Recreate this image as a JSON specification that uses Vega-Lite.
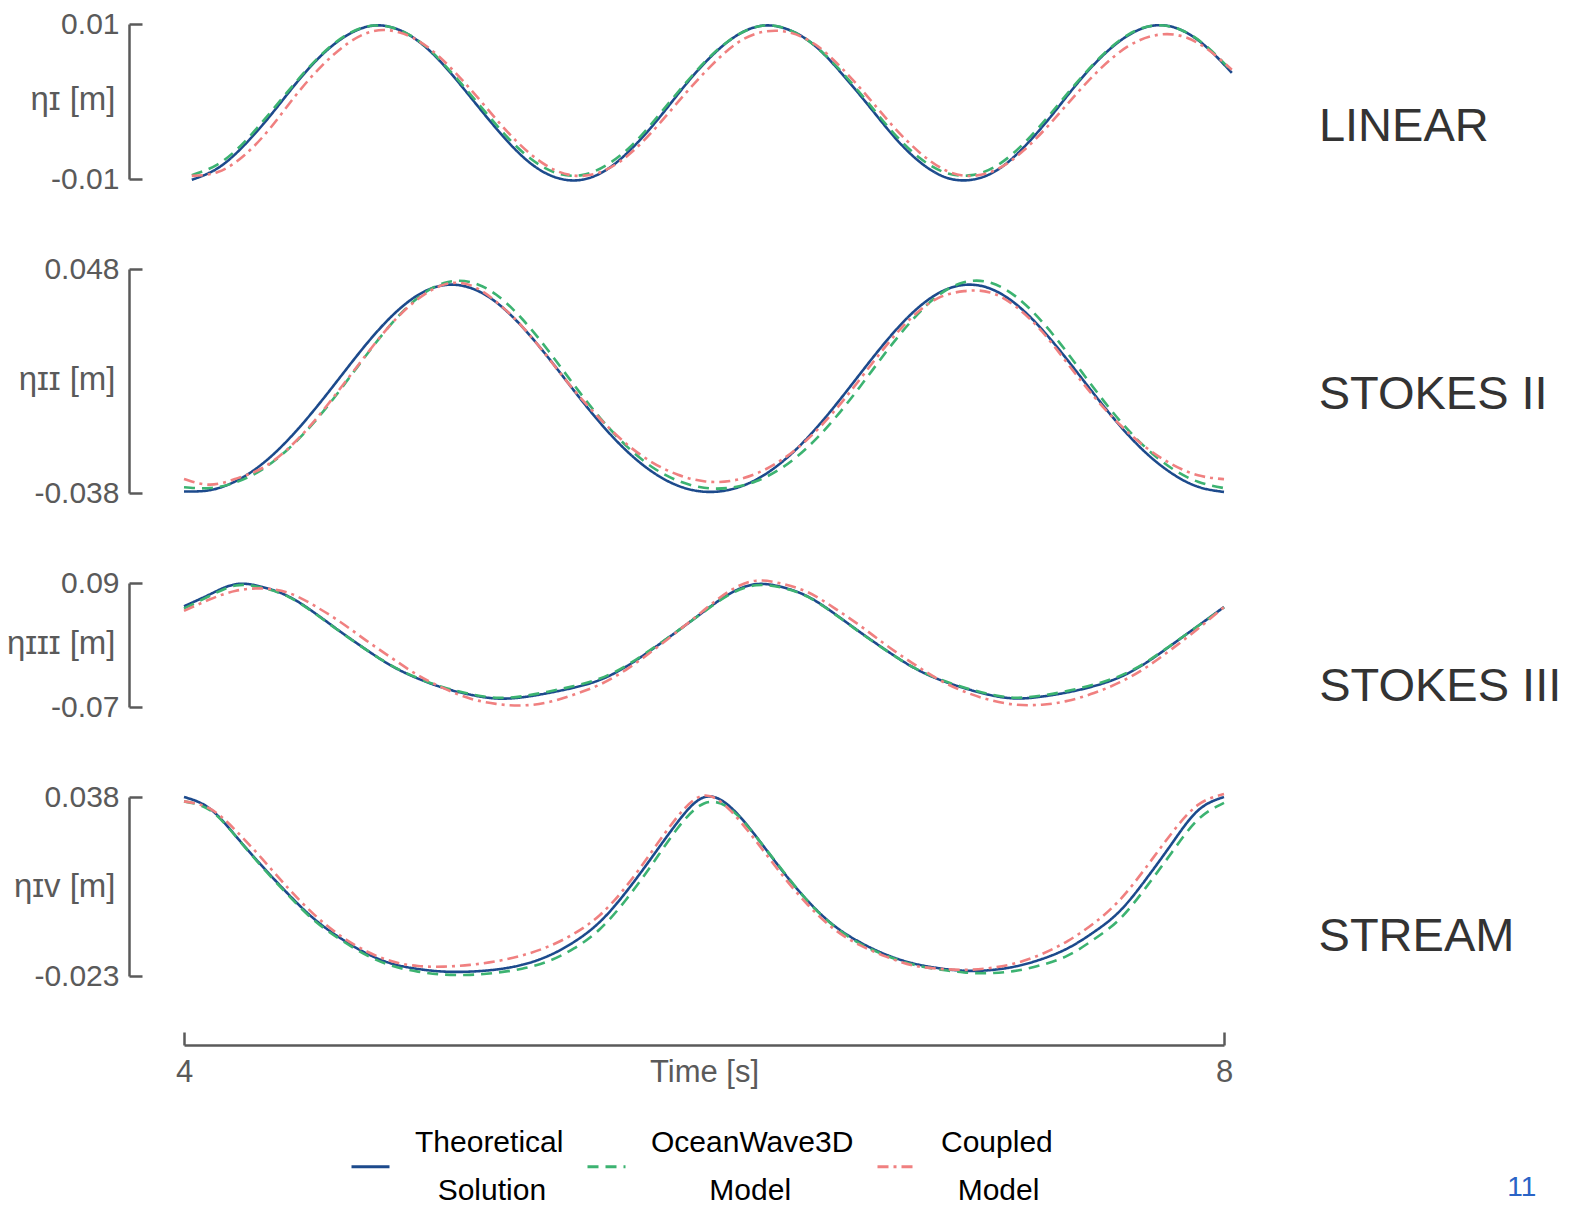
{
"$schema": "https://vega.github.io/schema/vega-lite/v6.json",
"background": "white",
"padding": {"left": 6, "top": 9, "right": 5, "bottom": 5},
"data": {"values": [
{"p":1,"t":4.03,"a":-0.0101,"b":-0.0095,"c":-0.0096},
{"p":1,"t":4.13,"a":-0.0086,"b":-0.0081,"c":-0.0091},
{"p":1,"t":4.23,"a":-0.0057,"b":-0.0053,"c":-0.0070},
{"p":1,"t":4.33,"a":-0.0019,"b":-0.0015,"c":-0.0035},
{"p":1,"t":4.43,"a":0.0023,"b":0.0025,"c":0.0008},
{"p":1,"t":4.53,"a":0.0060,"b":0.0061,"c":0.0046},
{"p":1,"t":4.63,"a":0.0086,"b":0.0087,"c":0.0075},
{"p":1,"t":4.73,"a":0.0098,"b":0.0098,"c":0.0091},
{"p":1,"t":4.83,"a":0.0092,"b":0.0092,"c":0.0089},
{"p":1,"t":4.93,"a":0.0070,"b":0.0071,"c":0.0072},
{"p":1,"t":5.03,"a":0.0035,"b":0.0037,"c":0.0042},
{"p":1,"t":5.13,"a":-0.0006,"b":-0.0002,"c":0.0005},
{"p":1,"t":5.23,"a":-0.0046,"b":-0.0041,"c":-0.0034},
{"p":1,"t":5.33,"a":-0.0079,"b":-0.0073,"c":-0.0067},
{"p":1,"t":5.43,"a":-0.0098,"b":-0.0092,"c":-0.0089},
{"p":1,"t":5.53,"a":-0.0101,"b":-0.0095,"c":-0.0096},
{"p":1,"t":5.63,"a":-0.0087,"b":-0.0081,"c":-0.0087},
{"p":1,"t":5.73,"a":-0.0058,"b":-0.0054,"c":-0.0063},
{"p":1,"t":5.83,"a":-0.0020,"b":-0.0016,"c":-0.0028},
{"p":1,"t":5.93,"a":0.0022,"b":0.0024,"c":0.0011},
{"p":1,"t":6.03,"a":0.0059,"b":0.0060,"c":0.0047},
{"p":1,"t":6.13,"a":0.0086,"b":0.0086,"c":0.0076},
{"p":1,"t":6.23,"a":0.0098,"b":0.0098,"c":0.0090},
{"p":1,"t":6.33,"a":0.0092,"b":0.0092,"c":0.0089},
{"p":1,"t":6.43,"a":0.0071,"b":0.0071,"c":0.0073},
{"p":1,"t":6.53,"a":0.0036,"b":0.0038,"c":0.0043},
{"p":1,"t":6.63,"a":-0.0004,"b":-0.0001,"c":0.0006},
{"p":1,"t":6.73,"a":-0.0045,"b":-0.0041,"c":-0.0033},
{"p":1,"t":6.83,"a":-0.0078,"b":-0.0073,"c":-0.0066},
{"p":1,"t":6.93,"a":-0.0098,"b":-0.0092,"c":-0.0089},
{"p":1,"t":7.03,"a":-0.0101,"b":-0.0095,"c":-0.0096},
{"p":1,"t":7.13,"a":-0.0088,"b":-0.0082,"c":-0.0087},
{"p":1,"t":7.23,"a":-0.0059,"b":-0.0054,"c":-0.0063},
{"p":1,"t":7.33,"a":-0.0021,"b":-0.0017,"c":-0.0029},
{"p":1,"t":7.43,"a":0.0021,"b":0.0023,"c":0.0009},
{"p":1,"t":7.53,"a":0.0058,"b":0.0059,"c":0.0044},
{"p":1,"t":7.63,"a":0.0085,"b":0.0086,"c":0.0071},
{"p":1,"t":7.73,"a":0.0098,"b":0.0098,"c":0.0085},
{"p":1,"t":7.83,"a":0.0093,"b":0.0093,"c":0.0085},
{"p":1,"t":7.93,"a":0.0071,"b":0.0072,"c":0.0069},
{"p":1,"t":8.03,"a":0.0037,"b":0.0039,"c":0.0041},
{"p":2,"t":4.0,"a":-0.0374,"b":-0.0358,"c":-0.0326},
{"p":2,"t":4.1,"a":-0.0369,"b":-0.0361,"c":-0.0348},
{"p":2,"t":4.2,"a":-0.0334,"b":-0.0339,"c":-0.0325},
{"p":2,"t":4.3,"a":-0.0269,"b":-0.0290,"c":-0.0285},
{"p":2,"t":4.4,"a":-0.0176,"b":-0.0212,"c":-0.0210},
{"p":2,"t":4.5,"a":-0.0062,"b":-0.0109,"c":-0.0105},
{"p":2,"t":4.6,"a":0.0064,"b":0.0015,"c":0.0020},
{"p":2,"t":4.7,"a":0.0190,"b":0.0148,"c":0.0150},
{"p":2,"t":4.8,"a":0.0300,"b":0.0272,"c":0.0272},
{"p":2,"t":4.9,"a":0.0380,"b":0.0370,"c":0.0365},
{"p":2,"t":5.0,"a":0.0418,"b":0.0426,"c":0.0420},
{"p":2,"t":5.1,"a":0.0408,"b":0.0430,"c":0.0418},
{"p":2,"t":5.2,"a":0.0353,"b":0.0382,"c":0.0355},
{"p":2,"t":5.3,"a":0.0259,"b":0.0289,"c":0.0260},
{"p":2,"t":5.4,"a":0.0141,"b":0.0168,"c":0.0140},
{"p":2,"t":5.5,"a":0.0013,"b":0.0035,"c":0.0015},
{"p":2,"t":5.6,"a":-0.0110,"b":-0.0091,"c":-0.0095},
{"p":2,"t":5.7,"a":-0.0216,"b":-0.0198,"c":-0.0190},
{"p":2,"t":5.8,"a":-0.0298,"b":-0.0280,"c":-0.0262},
{"p":2,"t":5.9,"a":-0.0352,"b":-0.0333,"c":-0.0310},
{"p":2,"t":6.0,"a":-0.0375,"b":-0.0360,"c":-0.0335},
{"p":2,"t":6.1,"a":-0.0367,"b":-0.0360,"c":-0.0334},
{"p":2,"t":6.2,"a":-0.0329,"b":-0.0335,"c":-0.0306},
{"p":2,"t":6.3,"a":-0.0261,"b":-0.0283,"c":-0.0252},
{"p":2,"t":6.4,"a":-0.0166,"b":-0.0203,"c":-0.0172},
{"p":2,"t":6.5,"a":-0.0050,"b":-0.0097,"c":-0.0067},
{"p":2,"t":6.6,"a":0.0077,"b":0.0028,"c":0.0057},
{"p":2,"t":6.7,"a":0.0202,"b":0.0161,"c":0.0185},
{"p":2,"t":6.8,"a":0.0310,"b":0.0283,"c":0.0295},
{"p":2,"t":6.9,"a":0.0386,"b":0.0378,"c":0.0368},
{"p":2,"t":7.0,"a":0.0419,"b":0.0429,"c":0.0395},
{"p":2,"t":7.1,"a":0.0405,"b":0.0428,"c":0.0390},
{"p":2,"t":7.2,"a":0.0345,"b":0.0374,"c":0.0335},
{"p":2,"t":7.3,"a":0.0248,"b":0.0278,"c":0.0240},
{"p":2,"t":7.4,"a":0.0128,"b":0.0155,"c":0.0115},
{"p":2,"t":7.5,"a":0.0000,"b":0.0022,"c":-0.0010},
{"p":2,"t":7.6,"a":-0.0122,"b":-0.0103,"c":-0.0118},
{"p":2,"t":7.7,"a":-0.0226,"b":-0.0207,"c":-0.0205},
{"p":2,"t":7.8,"a":-0.0305,"b":-0.0286,"c":-0.0270},
{"p":2,"t":7.9,"a":-0.0356,"b":-0.0337,"c":-0.0312},
{"p":2,"t":8.0,"a":-0.0376,"b":-0.0361,"c":-0.0327},
{"p":3,"t":4.0,"a":0.0600,"b":0.0570,"c":0.0540},
{"p":3,"t":4.1,"a":0.0754,"b":0.0735,"c":0.0690},
{"p":3,"t":4.2,"a":0.0885,"b":0.0868,"c":0.0800},
{"p":3,"t":4.3,"a":0.0850,"b":0.0840,"c":0.0830},
{"p":3,"t":4.4,"a":0.0730,"b":0.0725,"c":0.0775},
{"p":3,"t":4.5,"a":0.0520,"b":0.0515,"c":0.0610},
{"p":3,"t":4.6,"a":0.0276,"b":0.0272,"c":0.0400},
{"p":3,"t":4.7,"a":0.0042,"b":0.0040,"c":0.0160},
{"p":3,"t":4.8,"a":-0.0172,"b":-0.0170,"c":-0.0070},
{"p":3,"t":4.9,"a":-0.0333,"b":-0.0328,"c":-0.0290},
{"p":3,"t":5.0,"a":-0.0455,"b":-0.0448,"c":-0.0460},
{"p":3,"t":5.1,"a":-0.0540,"b":-0.0532,"c":-0.0590},
{"p":3,"t":5.2,"a":-0.0590,"b":-0.0580,"c":-0.0660},
{"p":3,"t":5.3,"a":-0.0575,"b":-0.0562,"c":-0.0680},
{"p":3,"t":5.4,"a":-0.0520,"b":-0.0502,"c":-0.0640},
{"p":3,"t":5.5,"a":-0.0450,"b":-0.0430,"c":-0.0540},
{"p":3,"t":5.6,"a":-0.0350,"b":-0.0332,"c":-0.0410},
{"p":3,"t":5.7,"a":-0.0180,"b":-0.0168,"c":-0.0220},
{"p":3,"t":5.8,"a":0.0043,"b":0.0050,"c":0.0020},
{"p":3,"t":5.9,"a":0.0284,"b":0.0285,"c":0.0280},
{"p":3,"t":6.0,"a":0.0534,"b":0.0530,"c":0.0550},
{"p":3,"t":6.1,"a":0.0764,"b":0.0755,"c":0.0800},
{"p":3,"t":6.2,"a":0.0885,"b":0.0870,"c":0.0930},
{"p":3,"t":6.3,"a":0.0847,"b":0.0840,"c":0.0890},
{"p":3,"t":6.4,"a":0.0724,"b":0.0720,"c":0.0780},
{"p":3,"t":6.5,"a":0.0509,"b":0.0505,"c":0.0580},
{"p":3,"t":6.6,"a":0.0266,"b":0.0262,"c":0.0350},
{"p":3,"t":6.7,"a":0.0033,"b":0.0030,"c":0.0100},
{"p":3,"t":6.8,"a":-0.0180,"b":-0.0178,"c":-0.0130},
{"p":3,"t":6.9,"a":-0.0340,"b":-0.0335,"c":-0.0340},
{"p":3,"t":7.0,"a":-0.0455,"b":-0.0448,"c":-0.0500},
{"p":3,"t":7.1,"a":-0.0545,"b":-0.0535,"c":-0.0610},
{"p":3,"t":7.2,"a":-0.0590,"b":-0.0580,"c":-0.0670},
{"p":3,"t":7.3,"a":-0.0565,"b":-0.0552,"c":-0.0670},
{"p":3,"t":7.4,"a":-0.0510,"b":-0.0492,"c":-0.0620},
{"p":3,"t":7.5,"a":-0.0430,"b":-0.0410,"c":-0.0520},
{"p":3,"t":7.6,"a":-0.0314,"b":-0.0298,"c":-0.0380},
{"p":3,"t":7.7,"a":-0.0130,"b":-0.0122,"c":-0.0190},
{"p":3,"t":7.8,"a":0.0104,"b":0.0108,"c":0.0050},
{"p":3,"t":7.9,"a":0.0346,"b":0.0345,"c":0.0310},
{"p":3,"t":8.0,"a":0.0590,"b":0.0585,"c":0.0590},
{"p":4,"t":4.0,"a":0.0380,"b":0.0365,"c":0.0365},
{"p":4,"t":4.1,"a":0.0340,"b":0.0335,"c":0.0340},
{"p":4,"t":4.2,"a":0.0246,"b":0.0245,"c":0.0265},
{"p":4,"t":4.3,"a":0.0145,"b":0.0142,"c":0.0170},
{"p":4,"t":4.4,"a":0.0050,"b":0.0046,"c":0.0070},
{"p":4,"t":4.5,"a":-0.0035,"b":-0.0040,"c":-0.0020},
{"p":4,"t":4.6,"a":-0.0100,"b":-0.0105,"c":-0.0092},
{"p":4,"t":4.7,"a":-0.0152,"b":-0.0158,"c":-0.0145},
{"p":4,"t":4.8,"a":-0.0188,"b":-0.0195,"c":-0.0180},
{"p":4,"t":4.9,"a":-0.0206,"b":-0.0215,"c":-0.0196},
{"p":4,"t":5.0,"a":-0.0215,"b":-0.0225,"c":-0.0198},
{"p":4,"t":5.1,"a":-0.0215,"b":-0.0226,"c":-0.0192},
{"p":4,"t":5.2,"a":-0.0208,"b":-0.0219,"c":-0.0180},
{"p":4,"t":5.3,"a":-0.0192,"b":-0.0205,"c":-0.0160},
{"p":4,"t":5.4,"a":-0.0162,"b":-0.0180,"c":-0.0130},
{"p":4,"t":5.5,"a":-0.0114,"b":-0.0136,"c":-0.0086},
{"p":4,"t":5.6,"a":-0.0045,"b":-0.0070,"c":-0.0022},
{"p":4,"t":5.7,"a":0.0056,"b":0.0030,"c":0.0075},
{"p":4,"t":5.8,"a":0.0175,"b":0.0150,"c":0.0195},
{"p":4,"t":5.9,"a":0.0296,"b":0.0275,"c":0.0315},
{"p":4,"t":6.0,"a":0.0379,"b":0.0358,"c":0.0385},
{"p":4,"t":6.1,"a":0.0347,"b":0.0340,"c":0.0335},
{"p":4,"t":6.2,"a":0.0246,"b":0.0245,"c":0.0230},
{"p":4,"t":6.3,"a":0.0130,"b":0.0132,"c":0.0115},
{"p":4,"t":6.4,"a":0.0025,"b":0.0024,"c":0.0012},
{"p":4,"t":6.5,"a":-0.0058,"b":-0.0060,"c":-0.0070},
{"p":4,"t":6.6,"a":-0.0115,"b":-0.0120,"c":-0.0125},
{"p":4,"t":6.7,"a":-0.0157,"b":-0.0160,"c":-0.0164},
{"p":4,"t":6.8,"a":-0.0186,"b":-0.0190,"c":-0.0193},
{"p":4,"t":6.9,"a":-0.0203,"b":-0.0207,"c":-0.0205},
{"p":4,"t":7.0,"a":-0.0212,"b":-0.0218,"c":-0.0209},
{"p":4,"t":7.1,"a":-0.0210,"b":-0.0220,"c":-0.0203},
{"p":4,"t":7.2,"a":-0.0197,"b":-0.0212,"c":-0.0186},
{"p":4,"t":7.3,"a":-0.0172,"b":-0.0192,"c":-0.0155},
{"p":4,"t":7.4,"a":-0.0135,"b":-0.0160,"c":-0.0110},
{"p":4,"t":7.5,"a":-0.0080,"b":-0.0105,"c":-0.0050},
{"p":4,"t":7.6,"a":-0.0008,"b":-0.0035,"c":0.0030},
{"p":4,"t":7.7,"a":0.0100,"b":0.0072,"c":0.0140},
{"p":4,"t":7.8,"a":0.0222,"b":0.0192,"c":0.0258},
{"p":4,"t":7.9,"a":0.0334,"b":0.0303,"c":0.0353},
{"p":4,"t":8.0,"a":0.0380,"b":0.0360,"c":0.0390}
]},
"title": {"text": "11", "orient": "bottom", "anchor": "end", "frame": "bounds", "angle": 0, "align": "right", "baseline": "middle", "offset": 0, "dx": -25, "dy": -18, "fontSize": 28, "font": "Liberation Sans, sans-serif", "color": "#2a63c6", "fontWeight": "normal"},
"spacing": 60,
"vconcat": [
{
 "width": 1040, "height": 155,
 "title": {"text": "LINEAR", "dy": 2.3, "offset": -3},
 "transform": [{"filter": "datum.p == 1"}, {"fold": ["a", "b", "c"], "as": ["s", "v"]}],
 "mark": {"type": "line", "interpolate": "natural", "strokeWidth": 2.6},
 "encoding": {
  "x": {"field": "t", "type": "quantitative", "scale": {"domain": [4, 8]}, "axis": null},
  "y": {"field": "v", "type": "quantitative", "scale": {"domain": [-0.01, 0.01], "zero": false, "nice": false}, "axis": {"values": [-0.01, 0.01], "title": "ηɪ [m]", "titleY": 75}},
  "color": {"field": "s", "type": "nominal", "scale": {"domain": ["a", "b", "c"], "range": ["#1c4a8c", "#3cb371", "#f08080"]}, "legend": {"title": null, "labelExpr": "datum.label == 'a' ? ['Theoretical', '\u200b\u00a0\u00a0\u2009Solution'] : datum.label == 'b' ? ['OceanWave3D', '\u200b\u00a0\u00a0\u00a0\u00a0\u00a0\u00a0\u00a0Model'] : ['Coupled', '\u200b\u00a0\u00a0Model']", "encode": {"labels": {"update": {"lineHeight": {"value": 48}, "dy": {"value": -24}}}}}},
  "strokeDash": {"field": "s", "type": "nominal", "scale": {"domain": ["a", "b", "c"], "range": [[1, 0], [11, 7], [11, 5, 3, 5]]}, "legend": {"title": null, "labelExpr": "datum.label == 'a' ? ['Theoretical', '\u200b\u00a0\u00a0\u2009Solution'] : datum.label == 'b' ? ['OceanWave3D', '\u200b\u00a0\u00a0\u00a0\u00a0\u00a0\u00a0\u00a0Model'] : ['Coupled', '\u200b\u00a0\u00a0Model']", "encode": {"labels": {"update": {"lineHeight": {"value": 48}, "dy": {"value": -24}}}}}}
 }
},
{
 "width": 1040, "height": 224,
 "title": {"text": "STOKES II", "dy": -9.5, "offset": -25},
 "transform": [{"filter": "datum.p == 2"}, {"fold": ["a", "b", "c"], "as": ["s", "v"]}],
 "mark": {"type": "line", "interpolate": "natural", "strokeWidth": 2.6},
 "encoding": {
  "x": {"field": "t", "type": "quantitative", "scale": {"domain": [4, 8]}, "axis": null},
  "y": {"field": "v", "type": "quantitative", "scale": {"domain": [-0.038, 0.048], "zero": false, "nice": false}, "axis": {"values": [-0.038, 0.048], "title": "ηɪɪ [m]", "titleY": 110}},
  "color": {"field": "s", "type": "nominal", "scale": {"domain": ["a", "b", "c"], "range": ["#1c4a8c", "#3cb371", "#f08080"]}, "legend": {"title": null, "labelExpr": "datum.label == 'a' ? ['Theoretical', '\u200b\u00a0\u00a0\u2009Solution'] : datum.label == 'b' ? ['OceanWave3D', '\u200b\u00a0\u00a0\u00a0\u00a0\u00a0\u00a0\u00a0Model'] : ['Coupled', '\u200b\u00a0\u00a0Model']", "encode": {"labels": {"update": {"lineHeight": {"value": 48}, "dy": {"value": -24}}}}}},
  "strokeDash": {"field": "s", "type": "nominal", "scale": {"domain": ["a", "b", "c"], "range": [[1, 0], [11, 7], [11, 5, 3, 5]]}, "legend": {"title": null, "labelExpr": "datum.label == 'a' ? ['Theoretical', '\u200b\u00a0\u00a0\u2009Solution'] : datum.label == 'b' ? ['OceanWave3D', '\u200b\u00a0\u00a0\u00a0\u00a0\u00a0\u00a0\u00a0Model'] : ['Coupled', '\u200b\u00a0\u00a0Model']", "encode": {"labels": {"update": {"lineHeight": {"value": 48}, "dy": {"value": -24}}}}}}
 }
},
{
 "width": 1040, "height": 124,
 "title": {"text": "STOKES III", "dy": 19, "offset": -31},
 "transform": [{"filter": "datum.p == 3"}, {"fold": ["a", "b", "c"], "as": ["s", "v"]}],
 "mark": {"type": "line", "interpolate": "natural", "strokeWidth": 2.6},
 "encoding": {
  "x": {"field": "t", "type": "quantitative", "scale": {"domain": [4, 8]}, "axis": null},
  "y": {"field": "v", "type": "quantitative", "scale": {"domain": [-0.07, 0.09], "zero": false, "nice": false}, "axis": {"values": [-0.07, 0.09], "title": "ηɪɪɪ [m]", "titleY": 60}},
  "color": {"field": "s", "type": "nominal", "scale": {"domain": ["a", "b", "c"], "range": ["#1c4a8c", "#3cb371", "#f08080"]}, "legend": {"title": null, "labelExpr": "datum.label == 'a' ? ['Theoretical', '\u200b\u00a0\u00a0\u2009Solution'] : datum.label == 'b' ? ['OceanWave3D', '\u200b\u00a0\u00a0\u00a0\u00a0\u00a0\u00a0\u00a0Model'] : ['Coupled', '\u200b\u00a0\u00a0Model']", "encode": {"labels": {"update": {"lineHeight": {"value": 48}, "dy": {"value": -24}}}}}},
  "strokeDash": {"field": "s", "type": "nominal", "scale": {"domain": ["a", "b", "c"], "range": [[1, 0], [11, 7], [11, 5, 3, 5]]}, "legend": {"title": null, "labelExpr": "datum.label == 'a' ? ['Theoretical', '\u200b\u00a0\u00a0\u2009Solution'] : datum.label == 'b' ? ['OceanWave3D', '\u200b\u00a0\u00a0\u00a0\u00a0\u00a0\u00a0\u00a0Model'] : ['Coupled', '\u200b\u00a0\u00a0Model']", "encode": {"labels": {"update": {"lineHeight": {"value": 48}, "dy": {"value": -24}}}}}}
 }
},
{
 "width": 1040, "height": 179,
 "title": {"text": "STREAM", "dy": 27.5, "offset": -12},
 "transform": [{"filter": "datum.p == 4"}, {"fold": ["a", "b", "c"], "as": ["s", "v"]}],
 "mark": {"type": "line", "interpolate": "natural", "strokeWidth": 2.6},
 "encoding": {
  "x": {"field": "t", "type": "quantitative", "scale": {"domain": [4, 8]}, "axis": {"values": [4, 8], "format": "d", "title": "Time [s]"}},
  "y": {"field": "v", "type": "quantitative", "scale": {"domain": [-0.023, 0.038], "zero": false, "nice": false}, "axis": {"values": [-0.023, 0.038], "title": "ηɪᴠ [m]", "titleY": 89}},
  "color": {"field": "s", "type": "nominal", "scale": {"domain": ["a", "b", "c"], "range": ["#1c4a8c", "#3cb371", "#f08080"]}, "legend": {"title": null, "labelExpr": "datum.label == 'a' ? ['Theoretical', '\u200b\u00a0\u00a0\u2009Solution'] : datum.label == 'b' ? ['OceanWave3D', '\u200b\u00a0\u00a0\u00a0\u00a0\u00a0\u00a0\u00a0Model'] : ['Coupled', '\u200b\u00a0\u00a0Model']", "encode": {"labels": {"update": {"lineHeight": {"value": 48}, "dy": {"value": -24}}}}}},
  "strokeDash": {"field": "s", "type": "nominal", "scale": {"domain": ["a", "b", "c"], "range": [[1, 0], [11, 7], [11, 5, 3, 5]]}, "legend": {"title": null, "labelExpr": "datum.label == 'a' ? ['Theoretical', '\u200b\u00a0\u00a0\u2009Solution'] : datum.label == 'b' ? ['OceanWave3D', '\u200b\u00a0\u00a0\u00a0\u00a0\u00a0\u00a0\u00a0Model'] : ['Coupled', '\u200b\u00a0\u00a0Model']", "encode": {"labels": {"update": {"lineHeight": {"value": 48}, "dy": {"value": -24}}}}}}
 }
}
],
"config": {
 "view": {"stroke": null},
 "axis": {"grid": false, "domainColor": "#5a5a5a", "domainWidth": 2.5, "tickColor": "#5a5a5a", "tickWidth": 2.5, "tickSize": -13, "labelFont": "Liberation Sans, sans-serif", "labelColor": "#5a5a5a", "titleFont": "Liberation Sans, sans-serif", "titleColor": "#5a5a5a", "titleFontWeight": "normal"},
 "axisY": {"offset": 55, "labelPadding": 23, "labelFontSize": 30, "titleFontSize": 33, "titleAngle": 0, "titleAlign": "right", "titleBaseline": "middle", "titleX": -14, "labelExpr": "datum.value < 0 ? '-' + format(-datum.value, '~g') : format(datum.value, '~g')"},
 "axisX": {"offset": 69, "labelPadding": 25, "labelFlush": false, "labelFontSize": 31, "titleFontSize": 31, "titleY": 27, "titleBaseline": "middle"},
 "title": {"orient": "right", "angle": 0, "align": "left", "baseline": "middle", "anchor": "middle", "frame": "group", "font": "Liberation Sans, Arial, sans-serif", "fontSize": 47, "fontWeight": "normal", "color": "#333333"},
 "legend": {"orient": "none", "legendX": 166, "legendY": 1122, "direction": "horizontal", "symbolType": "stroke", "symbolSize": 1444, "symbolStrokeWidth": 3, "labelOffset": 24, "columnPadding": 17, "labelFont": "Liberation Sans, sans-serif", "labelFontSize": 30, "labelColor": "#000000", "labelLimit": 0, "padding": 0}
}
}
